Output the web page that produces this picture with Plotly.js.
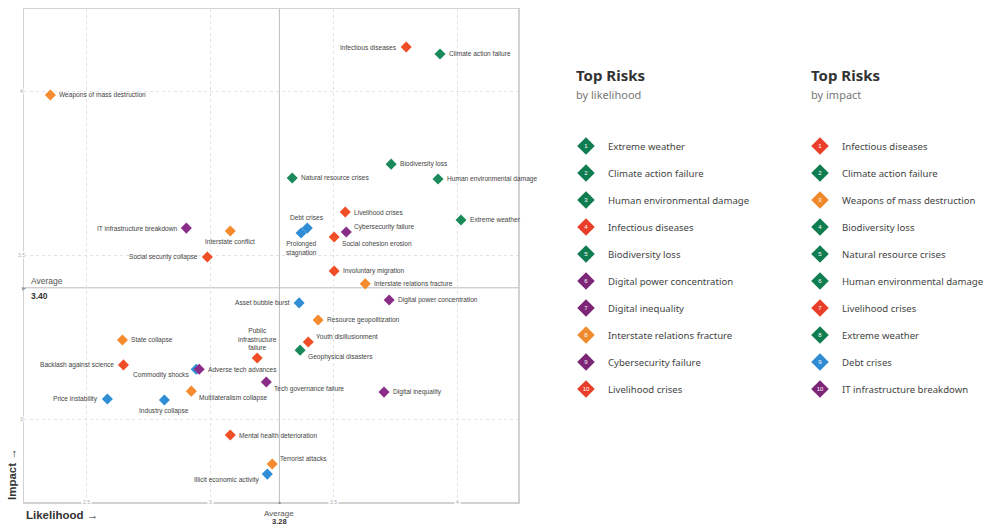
<!DOCTYPE html>
<html>
<head>
<meta charset="utf-8">
<script src="https://cdn.plot.ly/plotly-3.0.1.min.js"></script>
<style>html,body{margin:0;padding:0;background:#fff;}#chart{width:987px;height:526px;}</style>
</head>
<body>
<div id="chart"></div>
<script>
// ---------- DATA ----------
const riskNames = [
  "Infectious diseases","Climate action failure","Weapons of mass destruction","Biodiversity loss",
  "Natural resource crises","Human environmental damage","Livelihood crises","Extreme weather",
  "Debt crises","Prolonged<br>stagnation","Cybersecurity failure","Social cohesion erosion",
  "IT infrastructure breakdown","Interstate conflict","Social security collapse","Involuntary migration",
  "Interstate relations fracture","Digital power concentration","Asset bubble burst","Resource geopolitization",
  "Youth disillusionment","Geophysical disasters","Public<br>infrastructure<br>failure","State collapse",
  "Backlash against science","Commodity shocks","Adverse tech advances","Tech governance failure",
  "Digital inequality","Multilateralism collapse","Price instability","Industry collapse",
  "Mental health deterioration","Terrorist attacks","Illicit economic activity"
];
const likelihood = [
  3.794,3.931,2.352,3.733,
  3.332,3.923,3.547,4.016,
  3.393,3.368,3.551,3.502,
  2.903,3.081,2.988,3.502,
  3.628,3.725,3.360,3.437,
  3.397,3.364,3.190,2.644,
  2.648,2.943,2.955,3.227,
  3.704,2.923,2.583,2.814,
  3.081,3.251,3.231
];
const impact = [
  4.134,4.113,3.988,3.777,
  3.735,3.732,3.631,3.607,
  3.582,3.567,3.570,3.555,
  3.582,3.573,3.494,3.451,
  3.412,3.363,3.354,3.302,
  3.235,3.210,3.186,3.241,
  3.165,3.152,3.152,3.113,
  3.082,3.085,3.061,3.058,
  2.951,2.863,2.832
];
const riskCategory = [
  "soc","env","geo","env",
  "env","env","soc","env",
  "eco","eco","tech","soc",
  "tech","geo","soc","soc",
  "geo","tech","eco","geo",
  "soc","env","soc","geo",
  "soc","eco","tech","tech",
  "tech","geo","eco","eco",
  "soc","geo","eco"
];
const avgLikelihood = 3.28;
const avgImpact = 3.40;
const xTickVals = [2.5, 3, 3.5, 4];
const yTickVals = [3, 3.5, 4];
const topByLikelihood = ["Extreme weather","Climate action failure","Human environmental damage","Infectious diseases","Biodiversity loss","Digital power concentration","Digital inequality","Interstate relations fracture","Cybersecurity failure","Livelihood crises"];
const topByImpact = ["Infectious diseases","Climate action failure","Weapons of mass destruction","Biodiversity loss","Natural resource crises","Human environmental damage","Livelihood crises","Extreme weather","Debt crises","IT infrastructure breakdown"];

// ---------- STYLES ----------
const catColor = {eco:"#2f8ed6", env:"#1b8a5a", geo:"#f58b2c", soc:"#f04e26", tech:"#8a2c88"};
const legColor = {eco:"#2f8bd3", env:"#0f7d50", geo:"#ef8a2c", soc:"#e93f2a", tech:"#7d2577"};
// label placement per risk (style)
const labelPlace = [
  "l","r","r","r",
  "r","r","r","r",
  "t","b","ur","dr",
  "l","b","l","r",
  "r","r","l","r",
  "ur","dr","t","r",
  "l","dl","r","dr",
  "r","dr","l","b",
  "r","ur","dl"
];
const placeSpec = {
  r:{xa:"left",ya:"middle",dx:7,dy:0},
  l:{xa:"right",ya:"middle",dx:-7,dy:0},
  t:{xa:"center",ya:"bottom",dx:0,dy:5},
  b:{xa:"center",ya:"top",dx:0,dy:-5},
  ur:{xa:"left",ya:"middle",dx:6,dy:5},
  dr:{xa:"left",ya:"middle",dx:6,dy:-7},
  dl:{xa:"right",ya:"middle",dx:-5,dy:-6}
};
const labelFont = {family:"Liberation Sans, Arial, sans-serif", size:6.6, color:"#444"};
const legFont = "Noto Sans, Open Sans, sans-serif";

const annotations = [];
riskNames.forEach((n,i)=>{
  const p = placeSpec[labelPlace[i]];
  annotations.push({x:likelihood[i], y:impact[i], xref:"x", yref:"y", text:n, showarrow:false,
    xanchor:p.xa, yanchor:p.ya, xshift:p.dx, yshift:p.dy, align:"center", font:labelFont});
});
// tick labels on frame
xTickVals.forEach(v=>annotations.push({x:v, y:0, xref:"x", yref:"y domain", text:String(v), showarrow:false,
  xanchor:"center", yanchor:"middle", bgcolor:"#fff", borderpad:1, font:{family:"Liberation Sans, Arial", size:5, color:"#aaa"}}));
yTickVals.forEach(v=>annotations.push({x:0, y:v, xref:"x domain", yref:"y", text:String(v), showarrow:false,
  xanchor:"center", yanchor:"middle", xshift:-3, bgcolor:"#fff", borderpad:0, font:{family:"Liberation Sans, Arial", size:5, color:"#aaa"}}));
// average markers and labels
annotations.push({x:0, y:avgImpact, xref:"x domain", yref:"y", text:"▶", showarrow:false, xanchor:"center", yanchor:"middle",
  font:{size:5, color:"#999"}});
annotations.push({x:avgLikelihood, y:0, xref:"x", yref:"y domain", text:"▲", showarrow:false, xanchor:"center", yanchor:"middle",
  font:{size:5, color:"#999"}});
annotations.push({x:0, y:avgImpact, xref:"x domain", yref:"y", text:"Average", showarrow:false, xanchor:"left", yanchor:"middle",
  xshift:5, yshift:7, font:{family:"Liberation Sans, Arial", size:8.5, color:"#555"}});
annotations.push({x:0, y:avgImpact, xref:"x domain", yref:"y", text:"<b>"+avgImpact.toFixed(2)+"</b>", showarrow:false, xanchor:"left", yanchor:"middle",
  xshift:5, yshift:-8, font:{family:"Liberation Sans, Arial", size:8.5, color:"#333"}});
annotations.push({x:avgLikelihood, y:0, xref:"x", yref:"y domain", text:"Average", showarrow:false, xanchor:"center", yanchor:"middle",
  yshift:-11, font:{family:"Liberation Sans, Arial", size:8, color:"#555"}});
annotations.push({x:avgLikelihood, y:0, xref:"x", yref:"y domain", text:"<b>"+avgLikelihood.toFixed(2)+"</b>", showarrow:false, xanchor:"center", yanchor:"middle",
  yshift:-19.5, font:{family:"Liberation Sans, Arial", size:7.5, color:"#333"}});
// axis titles
annotations.push({x:0, y:0, xref:"x domain", yref:"y domain", text:"<b>Likelihood →</b>", showarrow:false, xanchor:"left", yanchor:"middle",
  yshift:-13, font:{family:"Liberation Sans, Arial", size:11.5, color:"#333"}});
annotations.push({x:0, y:0, xref:"x domain", yref:"y domain", text:"<b>Impact →</b>", showarrow:false, textangle:-90, xanchor:"center", yanchor:"bottom",
  xshift:-12, font:{family:"Liberation Sans, Arial", size:11.5, color:"#333"}});

// legend headers
const headerCols = [{x:0.5712, sub:"by likelihood"},{x:0.8152, sub:"by impact"}];
headerCols.forEach(h=>{
  annotations.push({x:h.x, y:0.866, xref:"paper", yref:"paper", text:"<b>Top Risks</b>", showarrow:false, xanchor:"left", yanchor:"middle",
    font:{family:legFont, size:15, color:"#333"}});
  annotations.push({x:h.x, y:0.8256, xref:"paper", yref:"paper", text:h.sub, showarrow:false, xanchor:"left", yanchor:"middle",
    font:{family:legFont, size:11, color:"#777"}});
});
const catOf = n => riskCategory[riskNames.indexOf(n)];
const legLists = [topByLikelihood, topByImpact];
const legX = [], legY = [], legC = [], legT = [];
legLists.forEach((list,col)=>{
  list.forEach((n,k)=>{
    legX.push(col); legY.push(k+1); legC.push(legColor[catOf(n)]); legT.push(String(k+1));
    annotations.push({x:col+0.0855, y:k+1, xref:"x2", yref:"y2", text:n, showarrow:false, xanchor:"left", yanchor:"middle",
      font:{family:legFont, size:9.6, color:"#444"}});
  });
});

const traces = [
  {x:likelihood, y:impact, type:"scatter", mode:"markers", xaxis:"x", yaxis:"y", hoverinfo:"skip",
   marker:{symbol:"diamond", size:8.5, color:riskCategory.map(c=>catColor[c]), line:{width:0}}},
  {x:legX, y:legY, type:"scatter", mode:"markers+text", xaxis:"x2", yaxis:"y2", text:legT, textposition:"middle center",
   textfont:{family:"Liberation Sans, Arial", size:6, color:"#fff"}, hoverinfo:"skip",
   marker:{symbol:"diamond", size:13.5, color:legC, line:{width:0}}}
];

const layout = {
  width:987, height:526, paper_bgcolor:"#fff", plot_bgcolor:"#fff",
  margin:{l:24, r:0, t:9, b:24}, showlegend:false, hovermode:false,
  xaxis:{domain:[0, 494/963], range:[2.245, 4.247], tickvals:xTickVals, showticklabels:false, ticks:"",
    showgrid:true, gridcolor:"#e2e2e2", griddash:"dot", gridwidth:1, zeroline:false,
    showline:true, linecolor:"#d2d2d2", linewidth:1.5, mirror:true},
  yaxis:{domain:[0,1], range:[2.747, 4.25], tickvals:yTickVals, showticklabels:false, ticks:"",
    showgrid:true, gridcolor:"#e2e2e2", griddash:"dot", gridwidth:1, zeroline:false,
    showline:true, linecolor:"#d2d2d2", linewidth:1.5, mirror:true},
  xaxis2:{domain:[552/963, 1], range:[-0.0427, 1.7137], visible:false, anchor:"y2"},
  yaxis2:{domain:[0,1], range:[14.185, -4.074], visible:false, anchor:"x2"},
  shapes:[
    {type:"line", xref:"x", yref:"y domain", x0:avgLikelihood, x1:avgLikelihood, y0:0, y1:1, line:{color:"#bdbdbd", width:1}, layer:"below"},
    {type:"line", xref:"x domain", yref:"y", x0:0, x1:1, y0:avgImpact, y1:avgImpact, line:{color:"#bdbdbd", width:1}, layer:"below"}
  ],
  annotations:annotations
};
Plotly.newPlot("chart", traces, layout, {staticPlot:true, displayModeBar:false});
</script>
</body>
</html>
